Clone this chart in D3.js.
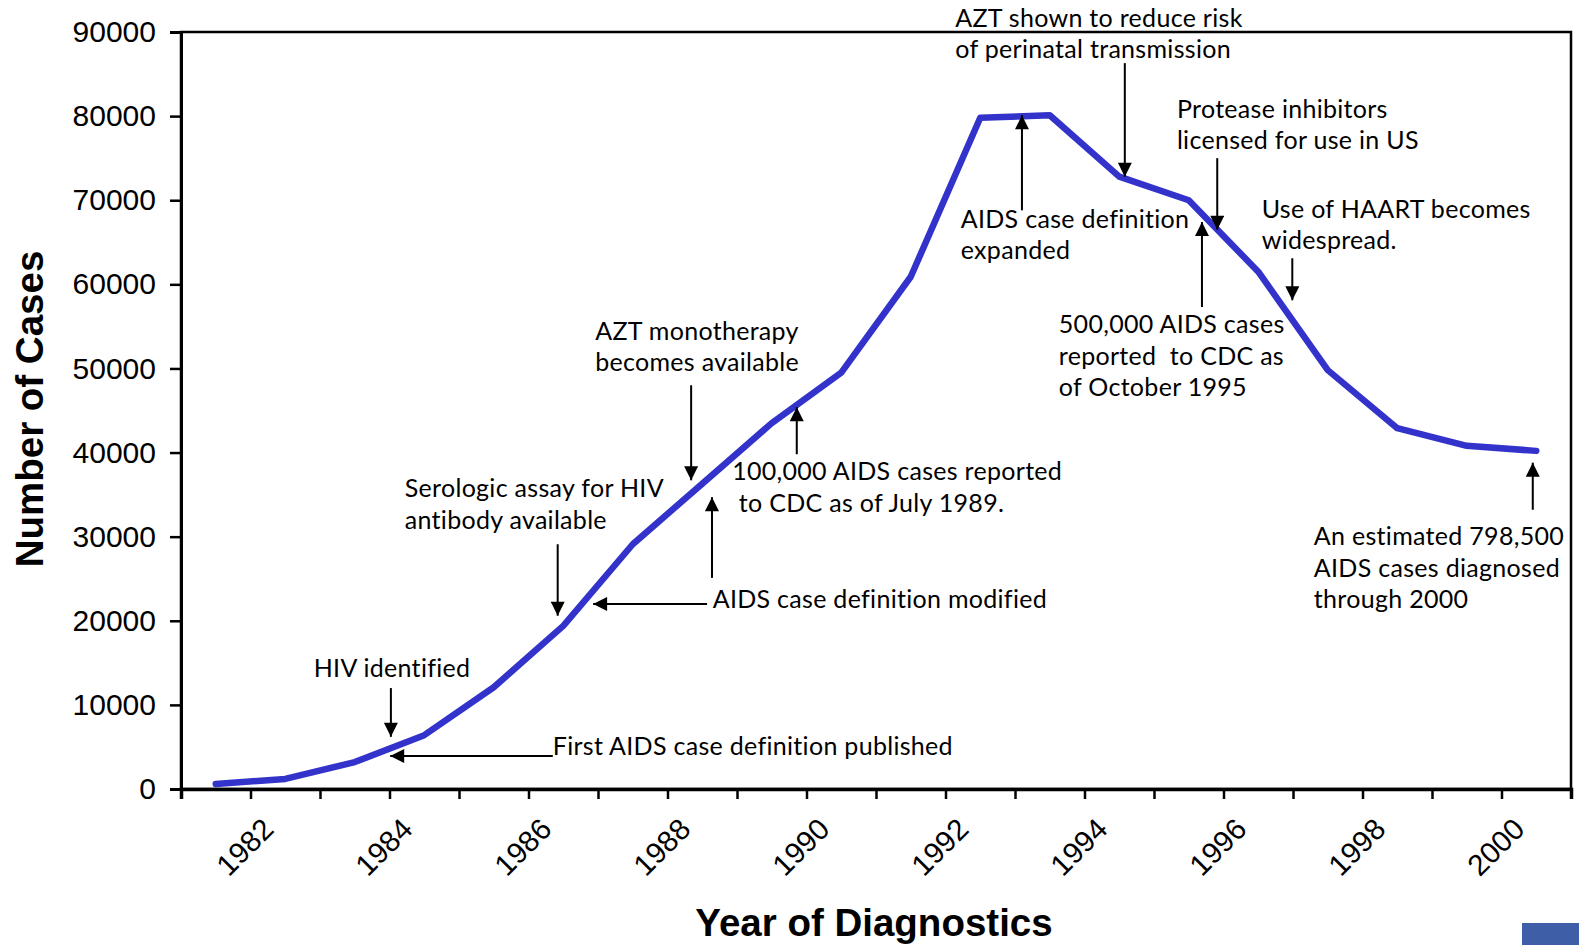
<!DOCTYPE html>
<html>
<head>
<meta charset="utf-8">
<script src="https://cdn.jsdelivr.net/npm/d3@7"></script>
<style>
  body { margin: 0; background: #fff; }
  .tick text { font-family: "Liberation Sans", Arial, sans-serif; }
  .note { font-family: Lato, "Open Sans", sans-serif; font-size: 25px; letter-spacing: 0.3px; fill: #000; }
</style>
</head>
<body>
<div id="chart"></div>
<script>
// AIDS cases by year of diagnosis
var years = [1981,1982,1983,1984,1985,1986,1987,1988,1989,1990,1991,1992,1993,1994,1995,1996,1997,1998,1999,2000];
var cases = [600,1200,3200,6400,12100,19400,29100,36300,43500,49500,60900,79800,80100,72800,70000,61500,49800,42900,40800,40200];
var yTicks = [0,10000,20000,30000,40000,50000,60000,70000,80000,90000];
var yearLabels = [1982,1984,1986,1988,1990,1992,1994,1996,1998,2000];

// annotations, placed in data units (year, cases)
var noteText = [
  ["HIV identified"],
  ["First AIDS case definition published"],
  ["Serologic assay for HIV", "antibody available"],
  ["AZT monotherapy", "becomes available"],
  ["100,000 AIDS cases reported", " to CDC as of July 1989."],
  ["AIDS case definition modified"],
  ["AZT shown to reduce risk", "of perinatal transmission"],
  ["AIDS case definition", "expanded"],
  ["Protease inhibitors", "licensed for use in US"],
  ["Use of HAART becomes", "widespread."],
  ["500,000 AIDS cases", "reported  to CDC as", "of October 1995"],
  ["An estimated 798,500", "AIDS cases diagnosed", "through 2000"]
];
var noteAt = [
  [1982.41,13300],[1985.85,4040],[1983.72,34700],[1986.46,53400],
  [1988.43,36700],[1988.15,21500],[1991.64,90600],[1991.72,66700],
  [1994.83,79800],[1996.05,67900],[1993.13,54200],[1996.80,29000]
];
// arrows: [yearFrom, casesFrom, yearTo, casesTo]
var arrows = [
  [1983.52,12000,1983.52,6200],
  [1985.85,3920,1983.51,3920],
  [1985.92,29100,1985.92,20600],
  [1987.84,48000,1987.84,36700],
  [1989.36,39800,1989.36,45400],
  [1988.14,25100,1988.14,34700],
  [1988.07,22000,1986.43,22000],
  [1994.08,86300,1994.08,72800],
  [1992.60,68800,1992.60,80100],
  [1995.41,75000,1995.41,66500],
  [1996.49,63100,1996.49,58100],
  [1995.19,57300,1995.19,67400],
  [1999.95,33200,1999.95,38800]
];

var width = 1579, height = 945;
var padL = 181, padR = 1571, padT = 32, padB = 789;

var svg = d3.select("#chart").append("svg")
    .attr("width", width)
    .attr("height", height);

svg.append("defs").append("marker")
    .attr("id", "head")
    .attr("viewBox", "0 0 10 10")
    .attr("refX", 10).attr("refY", 5)
    .attr("markerUnits", "userSpaceOnUse")
    .attr("markerWidth", 15).attr("markerHeight", 14)
    .attr("orient", "auto")
  .append("path")
    .attr("d", "M0,0L10,5L0,10Z")
    .attr("fill", "#000");

var x = d3.scaleLinear().domain([1980.5, 2000.5]).range([padL, padR]);
var y = d3.scaleLinear().domain([0, 90000]).range([padB, padT]);

// frame
svg.append("rect")
    .attr("x", padL).attr("y", padT)
    .attr("width", padR - padL).attr("height", padB - padT)
    .attr("fill", "none").attr("stroke", "#000").attr("stroke-width", 2.5);

var yAxis = d3.axisLeft(y).tickValues(yTicks).tickSize(11).tickPadding(14).tickFormat(d3.format("d"));
var gy = svg.append("g").attr("transform", "translate(" + padL + ",0)").call(yAxis);
gy.select(".domain").attr("stroke-width", 3);
gy.selectAll(".tick line").attr("stroke-width", 2.5);
gy.selectAll(".tick text").attr("font-size", "30px").attr("fill", "#000");

var xAxis = d3.axisBottom(x).tickValues(d3.range(1980.5, 2001, 1)).tickSize(10).tickFormat("");
var gx = svg.append("g").attr("transform", "translate(0," + padB + ")").call(xAxis);
gx.select(".domain").attr("stroke-width", 3.5);
gx.selectAll(".tick line").attr("stroke-width", 2.5);

svg.append("g").selectAll("text")
    .data(yearLabels)
    .enter().append("text")
    .attr("font-family", "Liberation Sans, Arial, sans-serif")
    .attr("font-size", "29.5px")
    .attr("text-anchor", "end")
    .attr("transform", function(d){ return "translate(" + (x(d) - 10) + "," + (padB + 42) + ") rotate(-45)"; })
    .text(function(d){ return d; });

// axis titles
svg.append("text")
    .attr("font-family", "Liberation Sans, Arial, sans-serif")
    .attr("font-weight", "bold").attr("font-size", "38.5px")
    .attr("text-anchor", "middle")
    .attr("transform", "translate(43,409) rotate(-90)")
    .text("Number of Cases");

svg.append("text")
    .attr("font-family", "Liberation Sans, Arial, sans-serif")
    .attr("font-weight", "bold").attr("font-size", "38.5px")
    .attr("text-anchor", "middle")
    .attr("x", (padL + padR) / 2 - 2).attr("y", 936)
    .text("Year of Diagnostics");

// data line
var line = d3.line()
    .x(function(d, i){ return x(years[i]); })
    .y(function(d){ return y(d); });

svg.append("path")
    .datum(cases)
    .attr("d", line)
    .attr("fill", "none")
    .attr("stroke", "#3333cc")
    .attr("stroke-width", 6.5)
    .attr("stroke-linejoin", "round")
    .attr("stroke-linecap", "round");

// arrows
svg.append("g").selectAll("line")
    .data(arrows)
    .enter().append("line")
    .attr("x1", function(d){ return x(d[0]); })
    .attr("y1", function(d){ return y(d[1]); })
    .attr("x2", function(d){ return x(d[2]); })
    .attr("y2", function(d){ return y(d[3]); })
    .attr("stroke", "#000").attr("stroke-width", 2)
    .attr("marker-end", "url(#head)");

// annotation text
var notes = svg.append("g").selectAll("text")
    .data(noteText)
    .enter().append("text")
    .attr("class", "note")
    .attr("xml:space", "preserve")
    .attr("x", function(d, i){ return x(noteAt[i][0]); })
    .attr("y", function(d, i){ return y(noteAt[i][1]); });

notes.selectAll("tspan")
    .data(function(d, i){ return d.map(function(t){ return {t: t, i: i}; }); })
    .enter().append("tspan")
    .attr("x", function(d){ return x(noteAt[d.i][0]); })
    .attr("dy", function(d, j){ return j === 0 ? 0 : 31.5; })
    .text(function(d){ return d.t; });

// corner logo fragment
svg.append("rect")
    .attr("x", 1522).attr("y", 923).attr("width", 57).attr("height", 22)
    .attr("fill", "#3f5ea8");
</script>
</body>
</html>
